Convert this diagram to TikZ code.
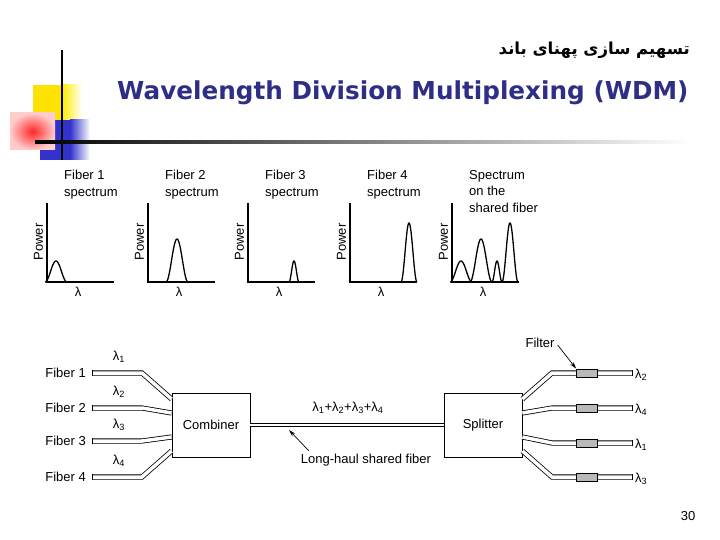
\documentclass[tikz,border=0pt]{standalone}
\usepackage{fontspec}
\setmainfont{Liberation Sans}
\newfontfamily\titlefont{DejaVu Sans}
\newfontfamily\arabicfont[Script=Arabic]{DejaVu Sans}
\TeXXeTstate=1
\usetikzlibrary{arrows.meta}
\definecolor{navy}{HTML}{2E2E86}
\begin{document}
\begin{tikzpicture}[x=1pt,y=-1pt,
  lbl/.style={font=\fontsize{13}{14}\selectfont, inner sep=0pt},
  small/.style={font=\fontsize{13}{16.5}\selectfont, inner sep=0pt, align=left},
  axis/.style={line width=1.2pt},
  peak/.style={line width=1.3pt},
  fib/.style={double distance=3.5pt, line width=0.8pt, double=white},
  shared/.style={double distance=1.6pt, line width=1.1pt, double=white},
  boxn/.style={draw, line width=0.8pt, minimum width=78pt, minimum height=64pt, font=\fontsize{13}{14}\selectfont},
  filt/.style={draw, line width=0.8pt, fill=gray!55, minimum width=21pt, minimum height=8pt, inner sep=0pt},
  ptr/.style={-{Stealth[length=7pt,width=4pt]}, line width=0.7pt}]
\useasboundingbox (0,0) rectangle (720,540);
% decoration
\fill[yellow!85!orange] (33,85) rectangle (62,120);
\shade[left color=yellow!85!orange, right color=white] (62,85) rectangle (82,120);
\fill[blue!75!black!80] (40,120) rectangle (70,160);
\shade[left color=blue!75!black!80,right color=white] (70,120) rectangle (90,160);
\shade[inner color=red!85, outer color=red!20] (10,113) rectangle (55,150);
\draw[line width=1.2pt] (62,50) -- (62,160);
\shade[left color=black, right color=white] (35,141) rectangle (690,143.5);
% titles
\node[anchor=east, inner sep=0pt] (fa) at (690,50) {\arabicfont\bfseries\fontsize{16.5}{18}\selectfont\beginR تسهیم سازی پهنای باند\endR};
\node[anchor=west, inner sep=0pt, text=navy] (ti) at (117,93) {\titlefont\bfseries\fontsize{24.7}{26}\selectfont Wavelength Division Multiplexing (WDM)};
% spectra panels
\foreach \i/\ax/\ta/\tb/\tc in {1/47/Fiber 1/spectrum/,2/148/Fiber 2/spectrum/,3/248/Fiber 3/spectrum/,4/350/Fiber 4/spectrum/,5/452/Spectrum/on the/shared fiber}{
  \draw[axis] (\ax,203) -- (\ax,282) -- (\ax+67,282);
  \node[small, anchor=north west] (t\i) at (\ax+17,170) {\ta\\\tb\\\tc};
  \node[lbl, rotate=90] (p\i) at (\ax-8.5,242) {Power};
  \node[lbl] (l\i) at (\ax+31,292) {λ};
}
\newcommand\pkk[3]{\draw[peak] plot[domain=-#3:#3, samples=41, smooth] ({#1+\x},{282-#2*(0.5+0.5*cos(180*\x/#3))});}
\pkk{56}{21}{11}
\pkk{177}{43}{11}
\pkk{294}{21}{5}
\pkk{409}{59}{8}
\pkk{461}{21}{11}
\pkk{481}{43}{11}
\pkk{497}{21}{5}
\pkk{510}{59}{8}
% bottom diagram
\node[boxn] (comb) at (211,425) {Combiner};
\node[boxn] (split) at (483,425) {Splitter};
\foreach \i/\y/\by/\l in {1/373/399/1,2/408/413/2,3/441/437/3,4/477/451/4}{
  \node[lbl, anchor=east] (f\i) at (86,\y) {Fiber \i};
  \coordinate (fs\i) at (92,\y);
  \draw[fib] (fs\i) -- (142,\y) -- (comb.west |- 0,\by);
  \draw[line width=0.8pt] (92,\y-2.6) -- (92,\y+2.6);
  \node[lbl] (lam\i) at (119,\y-16) {λ\textsubscript{\l}};
}
\draw[shared] (comb.east) -- (split.west);
\node[lbl] (sum) at (348,408) {λ\textsubscript{1}+λ\textsubscript{2}+λ\textsubscript{3}+λ\textsubscript{4}};
\node[lbl] (lh) at (366,460) {Long-haul shared fiber};
\coordinate (lht) at (289,430);
\draw[ptr] (lh.north west) ++(8,-3) -- (lht);
\foreach \i/\y/\by/\l in {1/373/399/2,2/408/413/4,3/443/437/1,4/477/451/3}{
  \coordinate (oe\i) at (632,\y);
  \draw[fib] (split.east |- 0,\by) -- (552,\y) -- (oe\i);
  \draw[line width=0.8pt] (632,\y-2.6) -- (632,\y+2.6);
  \node[filt] (fl\i) at (587,\y) {};
  \node[lbl, anchor=west] (ol\i) at (635,\y+2) {λ\textsubscript{\l}};
}
\node[lbl] (filter) at (540,343) {Filter};
\draw[ptr] (filter.east) ++(3,2) -- (fl1.north west);
\node[lbl] (pg) at (688,516) {30};
\end{tikzpicture}
\end{document}
